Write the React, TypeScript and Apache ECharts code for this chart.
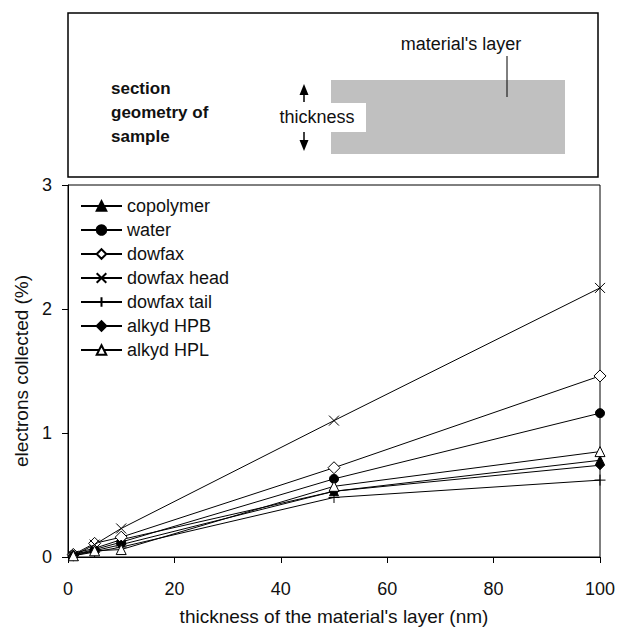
import React, { useEffect, useRef } from "react";
import * as echarts from "echarts";

// ---- data ----
const thickness = [1, 5, 10, 50, 100];
const copolymer = [0.03, 0.07, 0.14, 0.53, 0.78];
const water = [0.02, 0.06, 0.12, 0.63, 1.16];
const dowfax = [0.02, 0.11, 0.16, 0.72, 1.46];
const dowfaxHead = [0.01, 0.1, 0.23, 1.1, 2.17];
const dowfaxTail = [0.01, 0.04, 0.08, 0.48, 0.62];
const alkydHPB = [0.02, 0.05, 0.1, 0.53, 0.74];
const alkydHPL = [0.01, 0.05, 0.06, 0.57, 0.85];
const seriesNames = ["copolymer", "water", "dowfax", "dowfax head", "dowfax tail", "alkyd HPB", "alkyd HPL"];
const seriesValues = [copolymer, water, dowfax, dowfaxHead, dowfaxTail, alkydHPB, alkydHPL];
const xTitle = "thickness of the material's layer (nm)";
const yTitle = "electrons collected (%)";
const sectionLines = ["section", "geometry of", "sample"];

const FONT = "'Liberation Sans', Arial, sans-serif";
const CROSS = "path://M0,0L10,10M0,10L10,0";
const PLUS = "path://M5,0L5,10M0,5L10,5";

const markerStyles = [
  { symbol: "triangle", size: 9, fill: "#000" },
  { symbol: "circle", size: 9, fill: "#000" },
  { symbol: "diamond", size: 12, fill: "#fff" },
  { symbol: CROSS, size: 10, fill: "none" },
  { symbol: PLUS, size: 11, fill: "none" },
  { symbol: "diamond", size: 9, fill: "#000" },
  { symbol: "triangle", size: 10, fill: "#fff" },
];

export default function App() {
  const ref = useRef<HTMLDivElement>(null);
  useEffect(() => {
    if (!ref.current) return;
    const chart = echarts.init(ref.current, undefined, { renderer: "svg" });
    const series = seriesNames.map((name, i) => {
      const m = markerStyles[i];
      return {
        name,
        type: "line",
        data: thickness.map((x, j) => [x, seriesValues[i][j]]),
        symbol: m.symbol,
        symbolSize: m.size,
        showAllSymbol: true,
        lineStyle: { color: "#000", width: 1 },
        itemStyle: { color: m.fill === "none" ? "rgba(0,0,0,0)" : m.fill, borderColor: "#000", borderWidth: 1 },
        emphasis: { disabled: true },
        z: 3 + i,
      };
    });
    chart.setOption({
      animation: false,
      textStyle: { fontFamily: FONT },
      grid: {
        left: 68, right: 18, top: 185, bottom: 72,
        outerBoundsMode: "none",
        containLabel: false,
        show: true, borderColor: "#000", borderWidth: 1, backgroundColor: "transparent",
      },
      xAxis: {
        type: "value",
        min: 0,
        max: 100,
        interval: 20,
        splitLine: { show: false },
        axisLine: { lineStyle: { color: "#000", width: 1 } },
        axisTick: { show: true, inside: false, length: 6, lineStyle: { color: "#000" } },
        axisLabel: { color: "#111", fontSize: 18, fontFamily: FONT, margin: 23 },
        name: xTitle,
        nameLocation: "middle",
        nameGap: 50,
        nameTextStyle: { color: "#111", fontSize: 19, fontFamily: FONT },
      },
      yAxis: {
        type: "value",
        min: 0,
        max: 3,
        interval: 1,
        splitLine: { show: false },
        axisLine: { show: true, lineStyle: { color: "#000", width: 1 } },
        axisTick: { show: true, inside: false, length: 6, lineStyle: { color: "#000" } },
        axisLabel: { color: "#111", fontSize: 18, fontFamily: FONT, margin: 16 },
        name: yTitle,
        nameLocation: "middle",
        nameGap: 36,
        nameTextStyle: { color: "#111", fontSize: 19, fontFamily: FONT },
      },
      legend: {
        orient: "vertical",
        left: 80,
        top: 197,
        padding: 0,
        itemWidth: 41,
        itemHeight: 12,
        itemGap: 6,
        selectedMode: false,
        textStyle: { color: "#111", fontSize: 18, fontFamily: FONT },
        data: seriesNames,
      },
      graphic: [
        { type: "rect", shape: { x: 68, y: 13, width: 530, height: 164 }, style: { fill: "#fff", stroke: "#000", lineWidth: 1.5 }, z: 1 },
        { type: "rect", shape: { x: 331, y: 80, width: 234, height: 74 }, style: { fill: "#c0c0c0" }, z: 2 },
        { type: "rect", shape: { x: 331, y: 103, width: 35, height: 29 }, style: { fill: "#fff" }, z: 3 },
        { type: "line", shape: { x1: 507, y1: 56, x2: 507, y2: 97 }, style: { stroke: "#000", lineWidth: 1 }, z: 4 },
        { type: "text", style: { x: 461, y: 44, text: "material's layer", fill: "#111", font: `18px ${FONT}`, align: "center", verticalAlign: "middle" }, z: 4 },
        { type: "text", style: { x: 317, y: 117, text: "thickness", fill: "#111", font: `18px ${FONT}`, align: "center", verticalAlign: "middle" }, z: 4 },
        { type: "line", shape: { x1: 304, y1: 93, x2: 304, y2: 102 }, style: { stroke: "#000", lineWidth: 1.5 }, z: 4 },
        { type: "polygon", shape: { points: [[304, 84], [299.5, 95], [308.5, 95]] }, style: { fill: "#000" }, z: 4 },
        { type: "line", shape: { x1: 304, y1: 132, x2: 304, y2: 141 }, style: { stroke: "#000", lineWidth: 1.5 }, z: 4 },
        { type: "polygon", shape: { points: [[304, 151], [299.5, 140], [308.5, 140]] }, style: { fill: "#000" }, z: 4 },
        ...sectionLines.map((t, i) => ({
          type: "text",
          style: { x: 111, y: 88 + i * 24, text: t, fill: "#111", font: `bold 17px ${FONT}`, align: "left", verticalAlign: "middle" },
          z: 4,
        })),
      ],
      series,
    });
    return () => chart.dispose();
  }, []);
  return <div ref={ref} style={{ position: "fixed", left: 0, top: 0, width: 618, height: 629, background: "#fff" }} />;
}
